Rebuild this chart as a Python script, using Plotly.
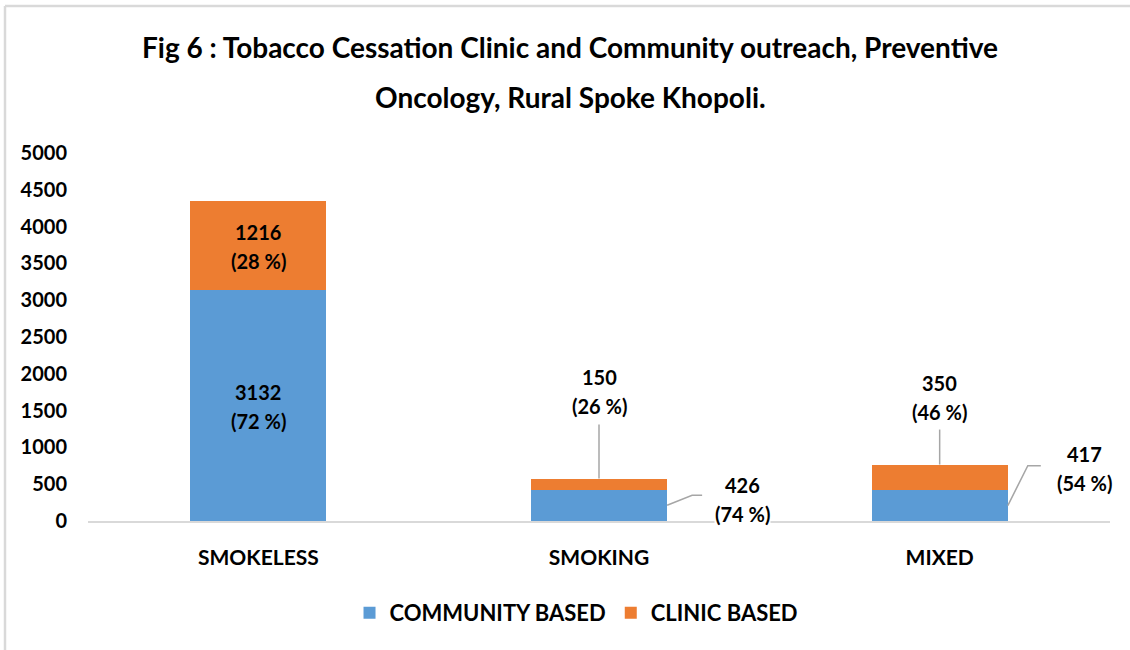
import plotly.graph_objects as go

# Data
categories = ["SMOKELESS", "SMOKING", "MIXED"]
community_based = [3132, 426, 417]
clinic_based = [1216, 150, 350]
community_pct = [72, 74, 54]
clinic_pct = [28, 26, 46]

BLUE = "#5B9BD5"
ORANGE = "#ED7D31"
GRID = "#D9D9D9"
LEADER = "#A6A6A6"
FONT = "Lato, 'Open Sans', sans-serif"
TXT = "#000000"

W, H = 1130, 650
M_L, M_R, M_T, M_B = 88, 20, 153, 129
BAR_W = 0.4

xs = list(range(len(categories)))

fig = go.Figure()
fig.add_trace(go.Bar(x=xs, y=community_based, name="COMMUNITY BASED",
                     marker=dict(color=BLUE, line=dict(width=0)), width=BAR_W))
fig.add_trace(go.Bar(x=xs, y=clinic_based, name="CLINIC BASED",
                     marker=dict(color=ORANGE, line=dict(width=0)), width=BAR_W))

annotations = []
shapes = []


def label(x, y, num, pct, xshift=0, yshift=0, bg=None):
    # two-line value label: count above, share below
    for txt, dy in ((f"{num}", 14), (f"({pct} %)", -15)):
        annotations.append(dict(
            x=x, y=y, xref="x", yref="y", text=txt, showarrow=False,
            xshift=xshift, yshift=yshift + dy,
            font=dict(family=FONT, size=20, color=TXT, weight="bold"),
            bgcolor=bg if bg else "rgba(0,0,0,0)", borderpad=0,
        ))


for i in xs:
    c, k = community_based[i], clinic_based[i]
    total = c + k
    if i == 0:
        # labels sit inside the tall bar
        label(i, c / 2, c, community_pct[i])
        label(i, c + k / 2, k, clinic_pct[i])
    else:
        # clinic label above the bar with a vertical leader
        if i == 1:
            label(i, total, k, clinic_pct[i], yshift=88)
            leader_up = "M0,0 L0,54"
        else:
            label(i, total, k, clinic_pct[i], yshift=68)
            leader_up = "M0,0 L0,35"
        shapes.append(dict(type="path", xref="x", yref="y",
                           xsizemode="pixel", ysizemode="pixel",
                           xanchor=i, yanchor=total, path=leader_up,
                           line=dict(color=LEADER, width=1.5)))
        # community label to the right with an elbow leader
        right = i + BAR_W / 2
        if i == 1:
            label(right, c / 2, c, community_pct[i], xshift=75, yshift=6, bg="white")
            elbow = "M0,0 L25,10 L35,10"
        else:
            label(right, c / 2, c, community_pct[i], xshift=77, yshift=38, bg="white")
            elbow = "M0,0 L20,40 L33,40"
        shapes.append(dict(type="path", xref="x", yref="y",
                           xsizemode="pixel", ysizemode="pixel",
                           xanchor=right, yanchor=c / 2, path=elbow,
                           line=dict(color=LEADER, width=1.5)))

# Title, two lines
plot_h = H - M_T - M_B
plot_w = W - M_L - M_R
for txt, ypx in (("Fig 6 : Tobacco Cessation Clinic and Community outreach, Preventive", 47),
                 ("Oncology, Rural Spoke Khopoli.", 97)):
    annotations.append(dict(
        x=0.5, xref="paper", y=(H - M_B - ypx) / plot_h, yref="paper",
        xanchor="center", yanchor="middle", showarrow=False, text=txt,
        xshift=-29,
        font=dict(family=FONT, size=28, color=TXT, weight="bold"),
    ))

# Chart area frame (left and top edges)
x_left = (5 - M_L) / plot_w
y_top = (H - M_B - 6) / plot_h
shapes.append(dict(type="line", xref="paper", yref="paper", x0=x_left, x1=x_left,
                   y0=(H - M_B - H) / plot_h, y1=y_top, line=dict(color=GRID, width=2.5)))
shapes.append(dict(type="line", xref="paper", yref="paper", x0=x_left, x1=(W - M_L) / plot_w,
                   y0=y_top, y1=y_top, line=dict(color=GRID, width=2.5)))

fig.update_layout(
    barmode="stack",
    width=W, height=H,
    margin=dict(l=M_L, r=M_R, t=M_T, b=M_B),
    paper_bgcolor="white", plot_bgcolor="white",
    font=dict(family=FONT, color=TXT),
    annotations=annotations,
    shapes=shapes,
    showlegend=True,
    legend=dict(orientation="h", x=0.478, xanchor="center", y=-0.25, yanchor="middle",
                font=dict(family=FONT, size=22, color=TXT, weight="bold"),
                traceorder="normal", itemwidth=30),
)
fig.update_xaxes(
    tickmode="array", tickvals=xs, ticktext=categories, range=[-0.5, 2.5],
    showgrid=False, showline=True, linecolor=GRID, linewidth=2,
    ticks="", ticklabelstandoff=17,
    tickfont=dict(family=FONT, size=21, color=TXT, weight="bold"),
    zeroline=False,
)
fig.update_yaxes(
    range=[0, 5000], dtick=500, showgrid=False, showline=False, zeroline=False,
    ticks="", ticklabelstandoff=20,
    tickfont=dict(family=FONT, size=20, color=TXT, weight="bold"),
)

fig.write_html("out.html")
